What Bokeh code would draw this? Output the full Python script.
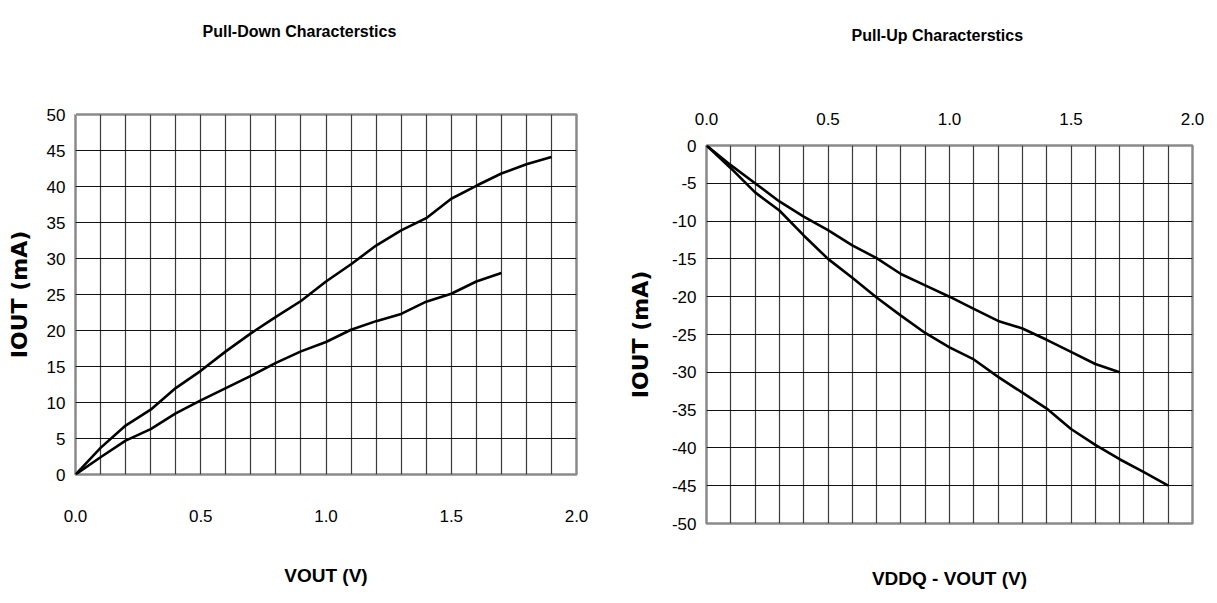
from bokeh.plotting import figure
from bokeh.layouts import row
from bokeh.models import Title, FixedTicker, NumeralTickFormatter, LinearAxis
from bokeh.embed import file_html
from bokeh.resources import INLINE

# ---------------- data ----------------
# Pull-down characteristics (V_OUT in V, I_OUT in mA)
pd_v_max = [0.0, 0.1, 0.2, 0.3, 0.4, 0.5, 0.6, 0.7, 0.8, 0.9, 1.0, 1.1, 1.2, 1.3, 1.4, 1.5, 1.6, 1.7, 1.8, 1.9]
pd_i_max = [0.0, 3.7, 6.8, 9.0, 12.0, 14.4, 17.1, 19.6, 21.9, 24.1, 26.8, 29.2, 31.8, 33.9, 35.6, 38.3, 40.1, 41.8, 43.1, 44.1]
pd_v_min = [0.0, 0.1, 0.2, 0.3, 0.4, 0.5, 0.6, 0.7, 0.8, 0.9, 1.0, 1.1, 1.2, 1.3, 1.4, 1.5, 1.6, 1.7]
pd_i_min = [0.0, 2.4, 4.7, 6.3, 8.5, 10.3, 12.0, 13.7, 15.5, 17.1, 18.4, 20.1, 21.3, 22.3, 24.0, 25.1, 26.8, 28.0]

# Pull-up characteristics (VDDQ - V_OUT in V, I_OUT in mA)
pu_v_min = [0.0, 0.1, 0.2, 0.3, 0.4, 0.5, 0.6, 0.7, 0.8, 0.9, 1.0, 1.1, 1.2, 1.3, 1.4, 1.5, 1.6, 1.7]
pu_i_min = [0.0, -2.6, -5.0, -7.4, -9.4, -11.2, -13.2, -14.9, -17.0, -18.5, -20.0, -21.6, -23.2, -24.2, -25.7, -27.3, -28.9, -30.0]
pu_v_max = [0.0, 0.1, 0.2, 0.3, 0.4, 0.5, 0.6, 0.7, 0.8, 0.9, 1.0, 1.1, 1.2, 1.3, 1.4, 1.5, 1.6, 1.7, 1.8, 1.9]
pu_i_max = [0.0, -3.0, -6.2, -8.6, -11.9, -15.0, -17.5, -20.1, -22.5, -24.8, -26.7, -28.3, -30.6, -32.7, -34.8, -37.5, -39.6, -41.5, -43.2, -45.0]

# axis ticks and labels
x_ticks = [0.0, 0.5, 1.0, 1.5, 2.0]
x_grid = [0.0, 0.1, 0.2, 0.3, 0.4, 0.5, 0.6, 0.7, 0.8, 0.9, 1.0, 1.1, 1.2, 1.3, 1.4, 1.5, 1.6, 1.7, 1.8, 1.9, 2.0]
pd_y_ticks = [0, 5, 10, 15, 20, 25, 30, 35, 40, 45, 50]
pd_y_labels = ["0", "5", "10", "15", "20", "25", "30", "35", "40", "45", "50"]
pu_y_ticks = [0, -5, -10, -15, -20, -25, -30, -35, -40, -45, -50]
pu_y_labels = ["0", "-5", "-10", "-15", "-20", "-25", "-30", "-35", "-40", "-45", "-50"]

titles = ["Pull-Down Characterstics", "Pull-Up Characterstics"]
y_label = "IOUT (mA)"
x_labels = ["VOUT (V)", "VDDQ - VOUT (V)"]

SANS = "Liberation Sans"
WIDE = "DejaVu Sans"


def style_axis(ax):
    ax.axis_line_color = None
    ax.major_tick_line_color = None
    ax.minor_tick_line_color = None
    ax.major_tick_out = 0
    ax.major_tick_in = 0
    ax.major_label_text_font = SANS
    ax.major_label_text_font_size = "17px"
    ax.major_label_text_color = "black"


def style(p, yticks, ylabels, xstandoff, ylabel_standoff):
    style_axis(p.xaxis[0])
    style_axis(p.yaxis[0])
    p.xaxis[0].ticker = FixedTicker(ticks=x_ticks)
    p.xaxis[0].formatter = NumeralTickFormatter(format="0.0")
    p.xaxis[0].major_label_standoff = xstandoff
    p.yaxis[0].ticker = FixedTicker(ticks=yticks)
    p.yaxis[0].major_label_overrides = dict(zip(yticks, ylabels))
    p.yaxis[0].major_label_standoff = 10
    p.yaxis[0].axis_label = y_label
    p.yaxis[0].axis_label_text_font = WIDE
    p.yaxis[0].axis_label_text_font_size = "22px"
    p.yaxis[0].axis_label_text_font_style = "bold"
    p.yaxis[0].axis_label_text_color = "black"
    p.yaxis[0].axis_label_standoff = ylabel_standoff
    p.xgrid.ticker = FixedTicker(ticks=x_grid)
    p.ygrid.ticker = FixedTicker(ticks=yticks)
    p.xgrid.grid_line_color = "#3a3a3a"
    p.ygrid.grid_line_color = "#111111"
    p.xgrid.grid_line_width = 1.2
    p.ygrid.grid_line_width = 1.2
    p.outline_line_color = "#8a8a8a"
    p.outline_line_width = 2.5
    p.background_fill_color = "white"
    p.border_fill_color = "white"
    try:
        p.frame_align = False
    except Exception:
        pass


def style_xlabel(ax, text, standoff):
    ax.axis_label = text
    ax.axis_label_text_font = SANS
    ax.axis_label_text_font_size = "19px"
    ax.axis_label_text_font_style = "bold"
    ax.axis_label_text_color = "black"
    ax.axis_label_standoff = standoff


def add_title(p, text, offset, gap):
    # invisible spacer axis (one white tick, no label text) pushes the title away from the frame
    spacer = LinearAxis(ticker=FixedTicker(ticks=[0.0]))
    style_axis(spacer)
    spacer.major_tick_line_color = "white"
    spacer.major_tick_out = gap
    spacer.major_label_standoff = 0
    spacer.major_label_text_color = None
    spacer.major_label_overrides = {0: ""}
    p.add_layout(spacer, "above")
    p.add_layout(Title(text=text, align="left", offset=offset, standoff=0, vertical_align="bottom",
                       text_font=SANS, text_font_size="16px", text_font_style="bold",
                       text_color="black"), "above")


# ---------------- left: pull-down ----------------
p1 = figure(width=624, height=600, x_range=(0, 2), y_range=(0, 50),
            output_backend="svg", toolbar_location=None,
            min_border_left=75, min_border_right=48, min_border_top=114, min_border_bottom=126)
style(p1, pd_y_ticks, pd_y_labels, 35, 12)
style_xlabel(p1.xaxis[0], x_labels[0], 40)
p1.line(pd_v_max, pd_i_max, line_color="black", line_width=2.6)
p1.line(pd_v_min, pd_i_min, line_color="black", line_width=2.6)
add_title(p1, titles[0], 127, 75)

# ---------------- right: pull-up ----------------
p2 = figure(width=589, height=600, x_range=(0, 2), y_range=(-50, 0),
            x_axis_location="above",
            output_backend="svg", toolbar_location=None,
            min_border_left=73, min_border_right=21, min_border_top=145, min_border_bottom=77)
style(p2, pu_y_ticks, pu_y_labels, 21, 16)
p2.line(pu_v_min, pu_i_min, line_color="black", line_width=2.6)
p2.line(pu_v_max, pu_i_max, line_color="black", line_width=2.6)
bottom_axis = LinearAxis(ticker=FixedTicker(ticks=[]))
style_axis(bottom_axis)
style_xlabel(bottom_axis, x_labels[1], 44)
p2.add_layout(bottom_axis, "below")
add_title(p2, titles[1], 145, 66)

layout = row(p1, p2)
open("out.html", "w").write(file_html(layout, INLINE))
